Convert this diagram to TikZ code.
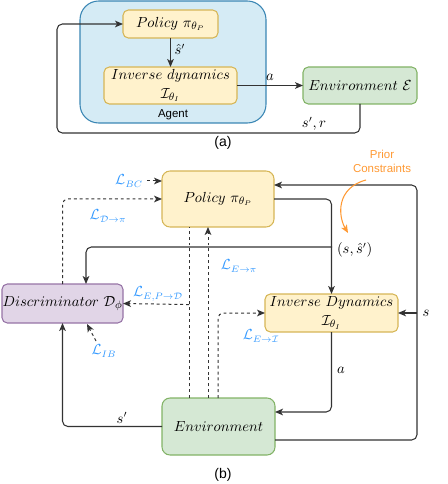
\documentclass[tikz,border=0pt]{standalone}
\usepackage{fontspec}
\setsansfont{Liberation Sans}
\usetikzlibrary{arrows.meta,calc}
\definecolor{yfill}{HTML}{FFF2CC}
\definecolor{ydraw}{HTML}{D6B656}
\definecolor{gfill}{HTML}{D5E8D4}
\definecolor{gdraw}{HTML}{82B366}
\definecolor{pfill}{HTML}{E1D5E7}
\definecolor{pdraw}{HTML}{9673A6}
\definecolor{bfill}{HTML}{D5EBF5}
\definecolor{bdraw}{HTML}{3A86B4}
\definecolor{lblue}{HTML}{3399FF}
\definecolor{lorange}{HTML}{FF9933}
\definecolor{ln}{HTML}{333333}
\begin{document}
\begin{tikzpicture}[x=0.75pt,y=-0.75pt,
  every node/.style={inner sep=0pt,outer sep=0pt},
  ybox/.style={draw=ydraw,fill=yfill,line width=0.8pt,rounded corners=4pt,align=center,font=\fontsize{11}{13}\selectfont},
  gbox/.style={draw=gdraw,fill=gfill,line width=0.8pt,rounded corners=4pt,align=center,font=\fontsize{11}{13}\selectfont},
  pbox/.style={draw=pdraw,fill=pfill,line width=0.8pt,rounded corners=4pt,align=center,font=\fontsize{11}{13}\selectfont},
  abox/.style={draw=bdraw,fill=bfill,line width=0.8pt,rounded corners=14pt},
  tip/.style={-{Stealth[length=6pt,width=5pt,inset=1.6pt]}},
  arr/.style={tip,draw=ln,line width=0.8pt,rounded corners=4pt},
  sline/.style={draw=ln,line width=0.8pt,rounded corners=4pt},
  darr/.style={tip,draw=ln,line width=0.75pt,dash pattern=on 2.2pt off 2.2pt,rounded corners=4pt},
  dline/.style={draw=ln,line width=0.75pt,dash pattern=on 2.2pt off 2.2pt,rounded corners=4pt},
  lab/.style={font=\fontsize{10.5}{12}\selectfont},
  bl/.style={text=lblue,font=\fontsize{10.5}{12}\selectfont},
  sf/.style={font=\sffamily\fontsize{8.6}{10.5}\selectfont},
]
\useasboundingbox (0,0) rectangle (447,484);

% ---------------- (a) ----------------
\node[abox,minimum width=139.5pt,minimum height=91.5pt] (agent) at (173,62) {};
\node[ybox,minimum width=71.25pt,minimum height=21pt] (pola) at (170.5,24) {$Policy\ \pi_{\theta_P}$};
\node[ybox,minimum width=99.75pt,minimum height=27.75pt] (ida) at (170.5,85.5) {$Inverse\ dynamics$\\[1pt]$\mathcal{I}_{\theta_I}$};
\node[gbox,minimum width=85.5pt,minimum height=27.75pt] (enva) at (360,85.5) {$Environment\ \mathcal{E}$};
\node[sf] (agentlab) at (173,115) {Agent};

\draw[arr] (pola) -- node[lab,right=3pt,pos=0.4] (shat) {$\hat{s}'$} (ida);
\draw[arr] (ida.east) -- node[lab,above=4pt] (alab) {$a$} (enva.west);
\coordinate (ca1) at (360,133);
\coordinate (ca2) at (57,133);
\coordinate (ca3) at (57,24);
\draw[arr] (enva.south) -- (ca1) -- (ca2) -- (ca3) -- (pola.west);
\node[lab] (srlab) at (314,124) {$s',r$};
\node[font=\sffamily\fontsize{10.5}{12}\selectfont] (capa) at (223,143) {(a)};

% ---------------- (b) ----------------
\node[ybox,minimum width=84pt,minimum height=42pt,rounded corners=6pt] (polb) at (218,199) {$Policy\ \pi_{\theta_P}$};
\node[ybox,minimum width=99.75pt,minimum height=28.5pt] (idb) at (331.5,313) {$Inverse\ Dynamics$\\[1pt]$\mathcal{I}_{\theta_I}$};
\node[pbox,minimum width=90.75pt,minimum height=29.25pt] (disc) at (62.5,303.5) {$Discriminator\ \mathcal{D}_{\phi}$};
\node[gbox,minimum width=84.75pt,minimum height=42.75pt,rounded corners=6pt] (envb) at (218.5,426.5) {$Environment$};

% L_BC
\node[bl] (lbc) at (129,181) {$\mathcal{L}_{BC}$};
\draw[darr] ([xshift=3pt]lbc.east) -- (polb.west |- lbc);
% L_D->pi
\draw[darr] (disc.north) |- (polb.west);
\node[bl] (ldpi) at (108,216) {$\mathcal{L}_{\mathcal{D}\rightarrow\pi}$};

% policy -> ID
\draw[arr] (polb.east) -| (idb.north);
\coordinate (j1) at (332,247);
\coordinate (dtop) at (86,284);
\draw[arr] (j1) -- (86,247) -- (dtop);
\node[lab,anchor=west] (sslab) at (337,250) {$(s,\hat{s}')$};

% environment -> policy loop and s -> ID
\coordinate (r1) at (417,440);
\coordinate (r2) at (417,185);
\draw[arr] (envb.east |- r1) -- (r1) -- (r2) -- (polb.east |- r2);
\coordinate (r3) at (417,313);
\draw[arr] (r3) -- (idb.east);
\node[lab] (slab) at (426,313) {$s$};

% ID -> env (a)
\coordinate (ea) at (275,412);
\draw[arr] (idb.south) |- (envb.east |- ea);
\node[lab] (alabb) at (341,370) {$a$};

% env -> disc (s')
\draw[arr] (envb.west) -| (disc.south);
\node[lab] (splab) at (122,418) {$s'$};

% dashed E,P -> D
\coordinate (d1) at (189,303.5);
\draw[dline] (envb.north -| d1) -- (polb.south -| d1);
\draw[darr] ([yshift=-0.8pt]d1) -- (disc.east);
\node[bl] (lepd) at (158,294) {$\mathcal{L}_{E,P\rightarrow\mathcal{D}}$};

% dashed E -> pi
\coordinate (d2) at (208,300);
\draw[darr] (envb.north -| d2) -- (polb.south -| d2);
\node[bl] (lepi) at (239,266) {$\mathcal{L}_{E\rightarrow\pi}$};

% dashed E -> I
\coordinate (d3) at (218,300);
\draw[darr] (envb.north -| d3) |- (idb.west);
\node[bl] (lei) at (261,336) {$\mathcal{L}_{E\rightarrow\mathcal{I}}$};

% L_IB
\node[bl] (lib) at (104,351) {$\mathcal{L}_{IB}$};
\coordinate (dib) at (87,324);
\draw[darr] (96,341) -- (dib);

% Prior constraints
\node[sf,text=lorange,align=center] (prior) at (382,161) {Prior\\Constraints};
\coordinate (pc) at (348,233);
\draw[-{Stealth[length=6pt,width=5pt,inset=1.6pt]},draw=lorange,line width=0.8pt] (366,180) .. controls (336,188) and (338,216) .. (pc);

\node[font=\sffamily\fontsize{10.5}{12}\selectfont] (capb) at (223,475) {(b)};
\end{tikzpicture}
\end{document}
